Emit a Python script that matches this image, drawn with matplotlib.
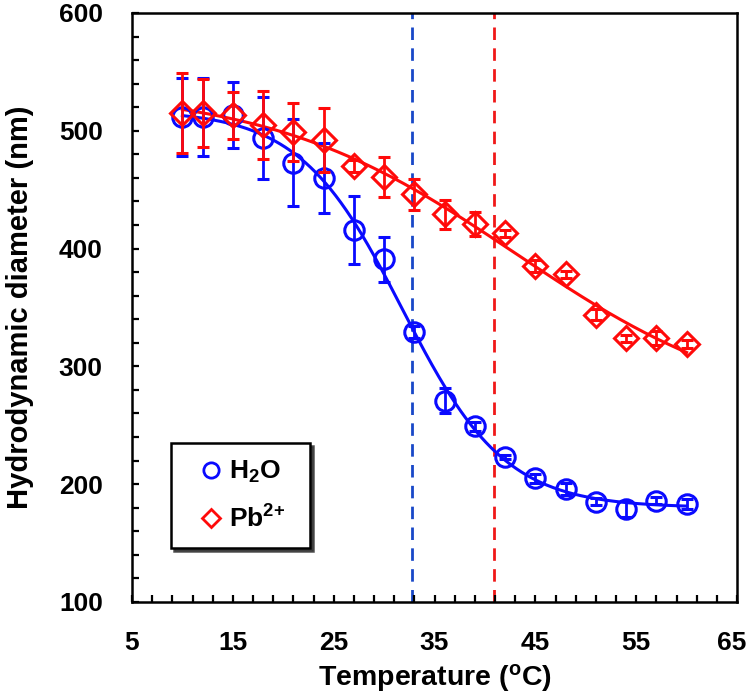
import numpy as np
import matplotlib
matplotlib.use('Agg')
import matplotlib.pyplot as plt
import matplotlib.transforms as mtransforms
from matplotlib.ticker import FixedLocator, MultipleLocator
from matplotlib.lines import Line2D

plt.rcParams['font.family'] = ['Liberation Sans', 'DejaVu Sans']
plt.rcParams['font.weight'] = 'bold'
plt.rcParams['mathtext.fontset'] = 'custom'
plt.rcParams['mathtext.rm'] = 'Liberation Sans:bold'
plt.rcParams['mathtext.bf'] = 'Liberation Sans:bold'
plt.rcParams['mathtext.it'] = 'Liberation Sans:bold'

# temperatures (C)
temp = [10, 12, 15, 18, 21, 24, 27, 30, 33, 36, 39, 42, 45, 48, 51, 54, 57, 60]

# hydrodynamic diameter in water
h2o = [512, 512, 513, 494, 473, 460, 416, 391, 329, 271, 249, 223, 205, 196, 185, 179, 186, 183]
h2o_err = [33, 33, 28, 35, 37, 30, 29, 19, 5, 11, 4, 2, 4, 5, 3, 7, 3, 4]

# hydrodynamic diameter with Pb2+
pb = [515, 515, 513, 505, 499, 492, 470, 461, 446, 429, 421, 413, 385, 378, 344, 324, 324, 319]
pb_err = [34, 29, 20, 29, 25, 27, 5, 17, 13, 12, 10, 3, 5, 3, 5, 3, 6, 3]

# transition temperatures (dashed lines)
lcst_h2o = 32.8
lcst_pb = 40.9

blue = '#0a0aff'
red = '#ff0a0a'


def boltzmann_fit(x, y):
    # grid search on x0/dx, linear least squares for the plateaus
    x = np.asarray(x, float)
    y = np.asarray(y, float)
    best = None
    for x0 in np.linspace(20, 55, 351):
        for dx in np.linspace(1, 15, 141):
            f = 1.0 / (1.0 + np.exp((x - x0) / dx))
            fm = f.mean()
            var = ((f - fm) ** 2).sum()
            if var == 0:
                continue
            b = ((f - fm) * (y - y.mean())).sum() / var
            a = y.mean() - b * fm
            res = ((a + b * f - y) ** 2).sum()
            if best is None or res < best[0]:
                best = (res, x0, dx, a, b)
    _, x0, dx, a, b = best
    return lambda t: a + b / (1.0 + np.exp((t - x0) / dx))


fig = plt.figure(figsize=(7.5, 6.94), dpi=100)
ax = fig.add_axes([0.176, 0.1326, 0.8067, 0.8487])

tt = np.linspace(temp[0], temp[-1], 300)
fit_h2o = boltzmann_fit(temp, h2o)
fit_pb = boltzmann_fit(temp, pb)

ax.axvline(lcst_h2o, color='#1848c8', lw=2.0, ls=(0, (4.5, 3.0)), zorder=1)
ax.axvline(lcst_pb, color='#f01818', lw=2.0, ls=(0, (4.5, 3.0)), zorder=1)

ax.plot(tt, fit_h2o(tt), color=blue, lw=2.2, zorder=2)
ax.plot(tt, fit_pb(tt), color=red, lw=2.2, zorder=2)

ax.errorbar(temp, h2o, yerr=h2o_err, fmt='o', ms=14, mfc='none', mec=blue,
            mew=2.2, ecolor=blue, elinewidth=2.0, capsize=4, capthick=2.0, zorder=3)
ax.errorbar(temp, pb, yerr=pb_err, fmt='D', ms=12, mfc='none', mec=red,
            mew=2.2, ecolor=red, elinewidth=2.0, capsize=4, capthick=2.0, zorder=4)

ax.set_xlim(5, 65)
ax.set_ylim(100, 600)
ax.set_xticks(np.arange(5, 66, 10))
ax.xaxis.set_minor_locator(FixedLocator(np.arange(5, 66, 2)))
ax.set_yticks(np.arange(100, 601, 100))
ax.yaxis.set_minor_locator(MultipleLocator(20))
ax.tick_params(which='both', direction='in', length=5, width=1.6, labelsize=19, pad=21)
for sp in ax.spines.values():
    sp.set_linewidth(1.8)

# keep the last x label inside the canvas
last = ax.get_xticklabels()[-1]
last.set_transform(last.get_transform() +
                   mtransforms.ScaledTranslation(-4 / 72, 0, fig.dpi_scale_trans))

ax.set_xlabel('Temperature ($^\\mathrm{o}$C)', fontsize=20.5, fontweight='bold', labelpad=5)
ax.set_ylabel('Hydrodynamic diameter (nm)', fontsize=21, fontweight='bold', labelpad=18)

handles = [Line2D([], [], ls='none', marker='o', ms=11, mfc='none', mec=blue, mew=2.0),
           Line2D([], [], ls='none', marker='D', ms=9, mfc='none', mec=red, mew=2.0)]
leg = ax.legend(handles, ['H$_2$O  ', 'Pb$^{2{+}}$  '], loc='lower left',
                bbox_to_anchor=(0.0645, 0.0915), borderaxespad=0, fancybox=False,
                shadow={'color': '0.2', 'alpha': 0.85}, fontsize=19, handlelength=1.86,
                handletextpad=-0.26, borderpad=0.6, labelspacing=0.75, framealpha=1)
leg.get_frame().set_edgecolor('black')
leg.get_frame().set_linewidth(1.8)

fig.savefig('out.png', dpi=100)
